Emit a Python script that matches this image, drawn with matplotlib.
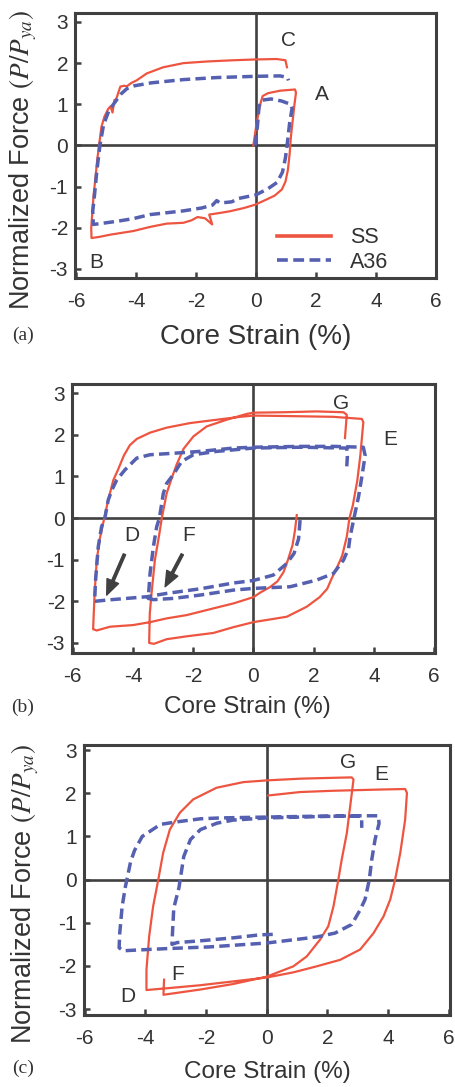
import matplotlib
matplotlib.use("Agg")
import matplotlib.pyplot as plt

plt.rcParams['font.family'] = ['Liberation Sans', 'DejaVu Sans']
plt.rcParams['mathtext.fontset'] = 'stix'
plt.rcParams['axes.unicode_minus'] = False

RED = '#EE5540'
BLUE = '#5560B0'
DARK = '#404040'

# ---- panel (a): core strain (%) vs normalized force ----
ss_a_x = [-0.09, 0.0, 0.12, 0.22, 0.4, 0.8, 1.3, 1.33, 1.28, 1.22, 1.16, 1.12, 1.06, 0.98,
          0.86, 0.62, 0.3, -0.03, -0.4, -0.87, -1.2, -1.56, -1.46, -1.7, -1.95, -2.15,
          -2.42, -2.98, -3.53, -4.09, -4.87, -5.2, -5.48, -5.49, -5.45, -5.41, -5.35,
          -5.29, -5.23, -5.15, -5.05, -4.93, -4.85, -4.78, -4.72, -4.66, -4.58, -4.52,
          -4.4, -4.3, -4.15, -3.98, -3.64, -3.09, -2.42, -1.64, -0.76, 0.0, 0.69, 0.98, 1.03]
ss_a_y = [0.0, 0.45, 0.95, 1.2, 1.27, 1.33, 1.36, 1.28, 1.0, 0.6, 0.2, -0.2, -0.6, -0.88,
          -1.07, -1.22, -1.33, -1.44, -1.52, -1.6, -1.64, -1.68, -1.92, -1.77, -1.74, -1.82,
          -1.88, -1.9, -1.98, -2.08, -2.17, -2.22, -2.25, -2.0, -1.6, -1.2, -0.8,
          -0.35, 0.0, 0.45, 0.7, 0.88, 0.95, 0.8, 1.1, 1.12, 1.3, 1.43,
          1.45, 1.44, 1.52, 1.58, 1.75, 1.9, 2.0, 2.04, 2.07, 2.09, 2.1, 2.07, 1.9]

a36_a_x = [-0.03, 0.05, 0.1, 0.2, 0.5, 0.85, 1.15, 1.2, 1.12, 1.05, 0.98, 0.88, 0.7, 0.4,
           0.0, -0.59, -0.81, -1.2, -1.31, -1.45, -1.81, -2.42, -3.03, -3.53, -4.1, -4.6,
           -5.2, -5.42, -5.44, -5.38, -5.3, -5.2, -5.08, -4.9, -4.7, -4.5, -4.3, -4.05,
           -3.5, -2.42, -1.3, 0.0, 0.8, 1.05, 1.08]
a36_a_y = [0.0, 0.5, 0.95, 1.1, 1.13, 1.08, 1.0, 0.9, 0.55, 0.1, -0.3, -0.65, -0.9, -1.05,
           -1.2, -1.29, -1.37, -1.4, -1.34, -1.45, -1.52, -1.59, -1.64, -1.68, -1.78, -1.84,
           -1.9, -1.92, -1.6, -1.2, -0.6, 0.0, 0.5, 0.85, 1.05, 1.25, 1.38, 1.45,
           1.52, 1.6, 1.65, 1.68, 1.69, 1.65, 1.58]

# ---- panel (b) ----
ss_b_x = [1.44, 1.38, 1.3, 1.15, 1.0, 0.8, 0.55, 0.25, 0.0, -0.66, -1.33, -2.21, -2.88,
          -3.43, -3.99, -4.76, -5.2, -5.32, -5.3, -5.27, -5.2, -5.1, -4.95, -4.82, -4.65,
          -4.5, -4.3, -4.1, -3.87, -3.43, -2.88, -2.1, -1.22, -0.44, 0.0, 1.0, 2.66, 3.6,
          3.65, 3.55, 3.45, 3.3, 3.19, 3.1, 2.95, 2.8, 2.6, 2.45, 2.2, 1.77, 1.11, 0.0,
          -0.66, -1.33, -2.21, -2.88, -3.3, -3.46, -3.44, -3.38, -3.27, -3.12, -3.04, -2.88,
          -2.71, -2.55, -2.32, -1.99, -1.55, -0.89, -0.22, 0.0, 1.0, 2.1, 2.99, 3.1, 3.04]
ss_b_y = [0.07, -0.3, -0.65, -1.0, -1.3, -1.52, -1.66, -1.78, -1.9, -2.05, -2.17, -2.33, -2.41,
          -2.5, -2.57, -2.61, -2.7, -2.67, -2.3, -1.8, -1.01, -0.5, 0.0, 0.43, 0.91,
          1.15, 1.5, 1.75, 1.9, 2.05, 2.17, 2.28, 2.36, 2.43, 2.46, 2.45, 2.43, 2.38,
          2.3, 1.5, 0.9, 0.3, 0.0, -0.45, -0.9, -1.15, -1.45, -1.7, -1.9, -2.13, -2.37, -2.5,
          -2.62, -2.76, -2.84, -2.91, -3.02, -3.0, -2.3, -1.8, -1.01, -0.37, 0.0, 0.59,
          0.96, 1.28, 1.66, 1.96, 2.2, 2.36, 2.5, 2.53, 2.54, 2.56, 2.54, 2.48, 1.92]

a36_b_x = [1.55, 1.5, 1.35, 1.11, 0.66, 0.0, -0.66, -1.77, -2.88, -3.54, -4.21, -4.87, -5.27,
           -5.24, -5.15, -5.04, -4.93, -4.82, -4.7, -4.54, -4.26, -3.87, -3.43, -2.55, -1.77,
           -0.66, 0.0, 1.55, 2.66, 3.65, 3.71, 3.6, 3.49, 3.34, 3.21, 3.16, 2.99, 2.66, 2.1,
           1.22, 0.0, -0.66, -1.77, -2.66, -3.32, -3.49, -3.43, -3.32, -3.21, -3.12, -2.99,
           -2.88, -2.66, -2.38, -1.99, -1.22, 0.0, 1.55, 3.1, 3.12, 3.1]
a36_b_y = [-0.05, -0.5, -0.85, -1.09, -1.37, -1.5, -1.56, -1.7, -1.81, -1.89, -1.93, -1.97, -2.0,
           -1.5, -0.69, -0.21, 0.0, 0.43, 0.67, 0.91, 1.16, 1.44, 1.52, 1.56, 1.6,
           1.68, 1.7, 1.72, 1.72, 1.7, 1.5, 0.99, 0.51, 0.0, -0.45, -0.73, -1.01, -1.33, -1.49,
           -1.65, -1.69, -1.73, -1.85, -1.93, -1.96, -1.93, -1.33, -0.69, -0.21, 0.0, 0.59,
           0.83, 1.04, 1.36, 1.52, 1.6, 1.68, 1.7, 1.68, 1.48, 1.24]

# ---- panel (c) ----
ss_c_x = [0.05, 1.1, 2.2, 3.85, 4.56, 4.62, 4.56, 4.4, 4.23, 4.07, 3.85, 3.52, 3.08, 2.42,
          1.65, 0.88, 0.0, -1.1, -2.2, -3.3, -3.96, -3.96, -3.87, -3.74, -3.57, -3.41, -3.19,
          -2.86, -2.42, -1.65, -0.77, 0.0, 1.1, 2.2, 2.8, 2.86, 2.75, 2.64, 2.47, 2.36, 2.2,
          2.03, 1.76, 1.32, 0.88, 0.0, -1.1, -2.2, -3.0, -3.4, -3.38]
ss_c_y = [1.95, 2.03, 2.06, 2.09, 2.1, 2.01, 1.39, 0.62, 0.0, -0.46, -0.85, -1.24, -1.62, -1.86,
          -2.01, -2.15, -2.27, -2.36, -2.45, -2.52, -2.56, -2.09, -1.31, -0.62, 0.0, 0.62, 1.16,
          1.55, 1.86, 2.13, 2.26, 2.3, 2.34, 2.36, 2.37, 2.32, 1.7, 1.08, 0.46, 0.0, -0.62,
          -1.08, -1.39, -1.78, -2.01, -2.25, -2.42, -2.55, -2.63, -2.67, -2.32]

a36_c_x = [0.2, -0.22, -1.1, -2.2, -2.95, -3.12, -3.1, -3.06, -2.89, -2.73, -2.51, -2.18, -1.63,
           -1.1, 0.0, 1.65, 3.0, 3.68, 3.7, 3.57, 3.46, 3.38, 3.24, 3.08, 2.8, 2.25, 1.65, 0.0,
           -1.87, -3.3, -4.18, -4.73, -4.86, -4.84, -4.76, -4.65, -4.48, -4.35, -4.1, -3.5,
           -2.95, -2.18, -1.52, 0.0, 1.65, 3.08, 3.13, 3.13]
a36_c_y = [-1.27, -1.28, -1.35, -1.42, -1.46, -1.5, -1.2, -0.66, -0.19, 0.54, 0.93, 1.16, 1.31,
           1.38, 1.43, 1.46, 1.48, 1.48, 1.3, 0.93, 0.46, 0.0, -0.46, -0.7, -1.04, -1.24, -1.33, -1.47,
           -1.56, -1.6, -1.63, -1.65, -1.58, -1.24, -0.62, -0.15, 0.42, 0.68, 1.0, 1.28,
           1.34, 1.41, 1.43, 1.45, 1.47, 1.47, 1.4, 1.2]

panels = [
    dict(pos=[0.1645, 0.7443, 0.792, 0.2438], xlim=(-6.03, 6.0), ylim=(-3.22, 3.22),
         ss=(ss_a_x, ss_a_y), a36=(a36_a_x, a36_a_y), xlab_y=-0.223, xlab_x=0.5,
         xlab_size=20),
    dict(pos=[0.158, 0.3993, 0.796, 0.2475], xlim=(-6.02, 6.03), ylim=(-3.24, 3.22),
         ss=(ss_b_x, ss_b_y), a36=(a36_b_x, a36_b_y), xlab_y=-0.2, xlab_x=0.482,
         xlab_size=17.5),
    dict(pos=[0.184, 0.0662, 0.803, 0.2484], xlim=(-6.02, 6.04), ylim=(-3.14, 3.12),
         ss=(ss_c_x, ss_c_y), a36=(a36_c_x, a36_c_y), xlab_y=-0.211, xlab_x=0.5,
         xlab_size=17.5),
]

fig = plt.figure(figsize=(4.56, 10.87), dpi=100)
axes = []
for p in panels:
    ax = fig.add_axes(p['pos'])
    ax.axhline(0, color=DARK, lw=1.9, zorder=1)
    ax.axvline(0, color=DARK, lw=1.9, zorder=1)
    ax.plot(*p['ss'], color=RED, lw=1.6, zorder=3, label='SS')
    ax.plot(*p['a36'], color=BLUE, lw=2.5, dashes=(3.0, 1.5), zorder=4, label='A36')
    ax.set_xlim(*p['xlim'])
    ax.set_ylim(*p['ylim'])
    ax.set_xticks(range(-6, 7, 2))
    ax.set_yticks(range(-3, 4))
    for s in ax.spines.values():
        s.set_color(DARK)
        s.set_linewidth(2.2)
    ax.tick_params(direction='in', length=4, width=1.8, color=DARK,
                   labelsize=15, labelcolor='#333333')
    ax.tick_params(axis='x', pad=10)
    ax.tick_params(axis='y', pad=5)
    ax.text(p['xlab_x'], p['xlab_y'], 'Core Strain (%)', transform=ax.transAxes,
            ha='center', va='center', fontsize=p['xlab_size'], color='#333333')
    axes.append(ax)

txt = dict(fontsize=15, color='#333333', ha='center', va='center')
ax_a, ax_b, ax_c = axes

ax_a.text(1.08, 2.55, 'C', **txt)
ax_a.text(2.19, 1.23, 'A', **txt)
ax_a.text(-5.31, -2.85, 'B', **txt)
leg = ax_a.legend(loc='lower left', bbox_to_anchor=(0.559, 0.02), frameon=False, fontsize=15.5,
                  handlelength=2.5, handletextpad=0.9, labelspacing=0.15, borderpad=0,
                  borderaxespad=0, labelcolor='#333333')
for h in leg.get_lines():
    h.set_linewidth(2.6)

ax_b.text(2.9, 2.76, 'G', **txt)
ax_b.text(4.56, 1.88, 'E', **txt)
ax_b.text(-4.04, -0.43, 'D', **txt)
ax_b.text(-2.14, -0.43, 'F', **txt)
arrow = dict(facecolor=DARK, edgecolor=DARK, width=1.8, headwidth=9, headlength=11)
ax_b.annotate('', xy=(-4.87, -1.85), xytext=(-4.28, -0.87), arrowprops=arrow)
ax_b.annotate('', xy=(-2.93, -1.65), xytext=(-2.36, -0.87), arrowprops=arrow)

ax_c.text(2.67, 2.71, 'G', **txt)
ax_c.text(3.77, 2.44, 'E', **txt)
ax_c.text(-2.93, -2.2, 'F', **txt)
ax_c.text(-4.56, -2.71, 'D', **txt)

ylab = 'Normalized Force $(P/P_{ya})$'
fig.text(23 / 456, 1 - 160 / 1087, ylab, rotation=90, ha='center', va='center',
         fontsize=19.5, color='#333333')
fig.text(25 / 456, 1 - 894 / 1087, ylab, rotation=90, ha='center', va='center',
         fontsize=19.5, color='#333333')

for tag, ypx in [('(a)', 335), ('(b)', 707), ('(c)', 1068)]:
    fig.text(23 / 456, 1 - ypx / 1087, tag, ha='center', va='center',
             family='Liberation Serif', fontsize=14, color='#333333')

fig.savefig('out.png', dpi=100)
